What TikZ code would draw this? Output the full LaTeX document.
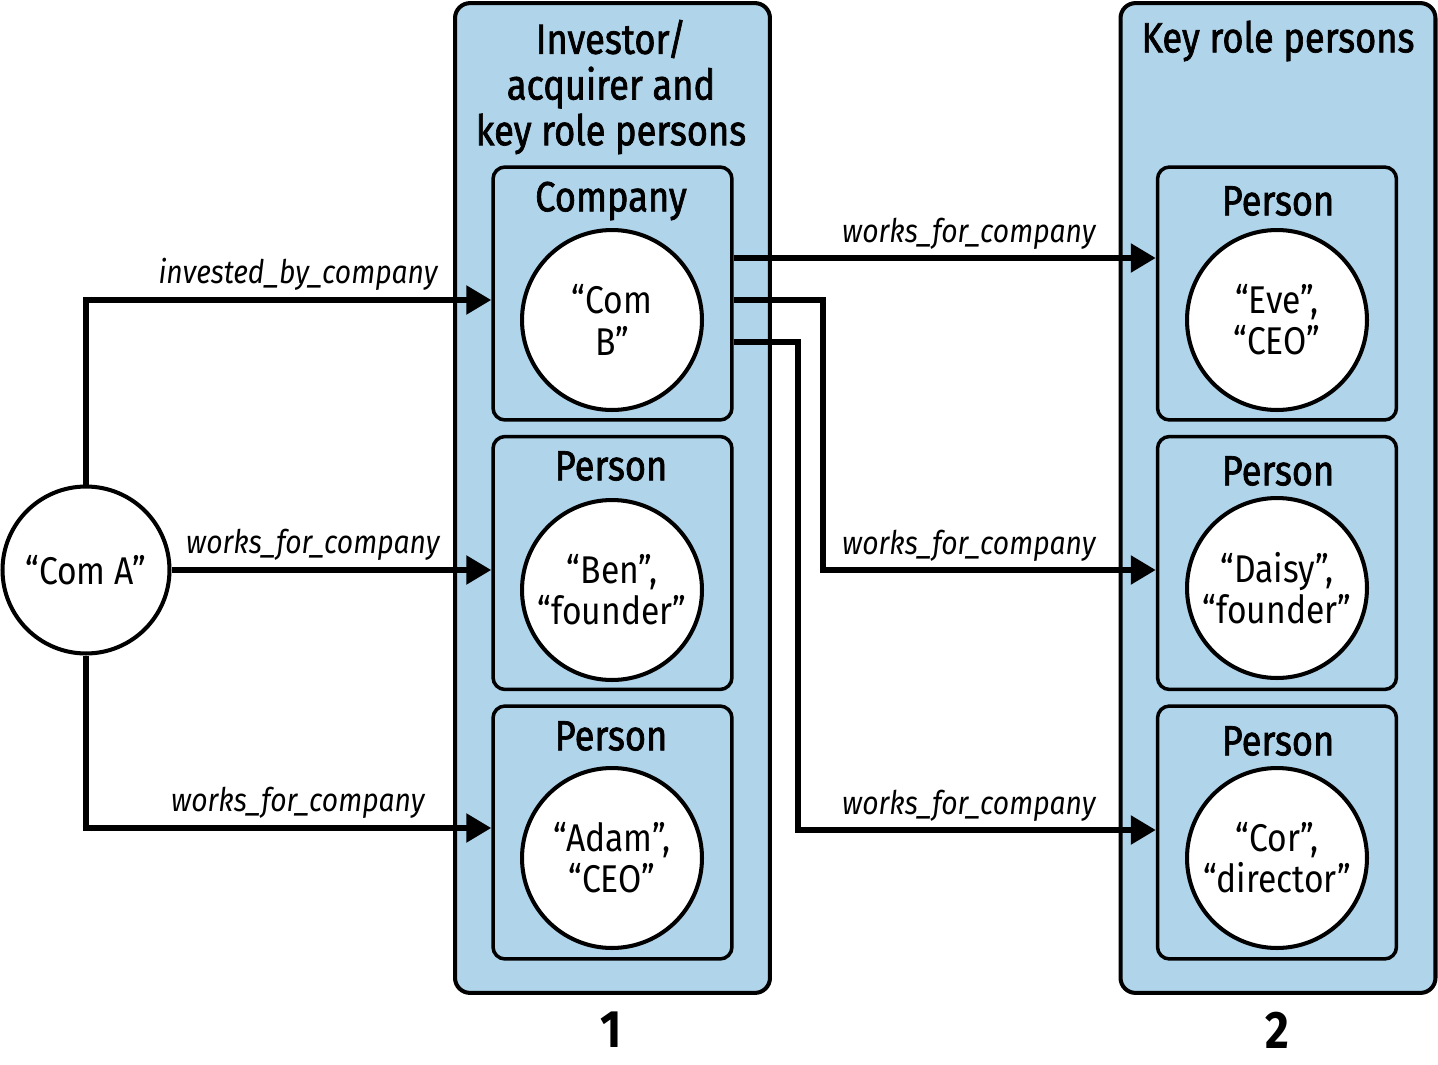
\documentclass[tikz,border=0pt]{standalone}
\usepackage{fontspec}
\setmainfont{Fira Sans}[FakeStretch=0.87]
\newfontfamily\headfont{Fira Sans}[FakeStretch=0.86,FakeBold=1.6]
\usetikzlibrary{arrows.meta}
\definecolor{boxblue}{HTML}{B0D4EA}

\begin{document}
\begin{tikzpicture}[x=0.02cm,y=-0.02cm,
  groupbox/.style={draw, line width=2.3pt, fill=boxblue, rounded corners=0.3cm,
    minimum width=6.3cm, minimum height=19.8cm},
  typebox/.style={draw, line width=2pt, fill=boxblue, rounded corners=0.24cm,
    minimum width=4.78cm, minimum height=5.06cm},
  entity/.style={circle, draw, line width=2.3pt, fill=white, minimum size=3.6cm,
    align=center, inner sep=0pt, font=\fontsize{22}{23.5}\selectfont},
  typename/.style={font=\fontsize{24}{26}\selectfont\headfont},
  grouptitle/.style={align=center, font=\fontsize{24}{26}\selectfont\headfont},
  rel/.style={line width=3.2pt, -{Triangle[length=0.5cm,width=0.56cm]}},
  rellabel/.style={anchor=base east, inner sep=0pt, font=\fontsize{18.5}{20}\selectfont\itshape},
  groupnum/.style={font=\fontsize{30}{32}\selectfont\bfseries}]

  \useasboundingbox (0,0) rectangle (1438,1065);

  \node[groupbox] (grpA) at (612.5,498) {};
  \node[groupbox] (grpB) at (1278,498) {};
  \node[grouptitle] (titleA) at (611,87) {Investor/\\acquirer and\\key role persons};
  \node[grouptitle] (titleB) at (1278,41) {Key role persons};

  \node[typebox] (boxComB) at (612.5,293.5) {};
  \node[typebox] (boxBen) at (612.5,563) {};
  \node[typebox] (boxAdam) at (612.5,832.5) {};
  \node[typebox] (boxEve) at (1277,293.5) {};
  \node[typebox] (boxDaisy) at (1277,563) {};
  \node[typebox] (boxCor) at (1277,832.5) {};

  \node[typename] (tComB) at (611,201) {Company};
  \node[typename] (tBen) at (611,466) {Person};
  \node[typename] (tAdam) at (611,736) {Person};
  \node[typename] (tEve) at (1278,201) {Person};
  \node[typename] (tDaisy) at (1278,471) {Person};
  \node[typename] (tCor) at (1278,741) {Person};

  \node[entity] (comB) at (612,320) {“Com\\B”};
  \node[entity] (ben) at (612,590) {“Ben”,\\“founder”};
  \node[entity] (adam) at (612,858) {“Adam”,\\“CEO”};
  \node[entity] (eve) at (1277,320) {“Eve”,\\“CEO”};
  \node[entity] (daisy) at (1277,588) {“Daisy”,\\“founder”};
  \node[entity] (cor) at (1277,858) {“Cor”,\\“director”};
  \node[entity, minimum size=3.34cm] (comA) at (86,570) {“Com A”};

  \coordinate (bendDaisy) at (823,300);
  \coordinate (bendCor) at (798,342);

  \draw[rel] (comA.north) |- (boxComB.west |- 0,300);
  \draw[rel] (comA.east) -- (comA.east -| boxBen.west);
  \draw[rel] (comA.south) |- (boxAdam.west |- 0,828);
  \draw[rel] (boxComB.east |- 0,258) -- (boxEve.west |- 0,258);
  \draw[rel] (boxComB.east |- bendDaisy) -- (bendDaisy) |- (boxDaisy.west |- 0,570);
  \draw[rel] (boxComB.east |- bendCor) -- (bendCor) |- (boxCor.west |- 0,830);

  \node[rellabel] (lInvested) at (438,283) {invested\_by\_company};
  \node[rellabel] (lBen) at (440,553) {works\_for\_company};
  \node[rellabel] (lAdam) at (425,811) {works\_for\_company};
  \node[rellabel] (lEve) at (1096,242) {works\_for\_company};
  \node[rellabel] (lDaisy) at (1096,554) {works\_for\_company};
  \node[rellabel] (lCor) at (1096,814) {works\_for\_company};

  \node[groupnum] (numA) at (611,1030) {1};
  \node[groupnum] (numB) at (1277,1030) {2};

\end{tikzpicture}
\end{document}
